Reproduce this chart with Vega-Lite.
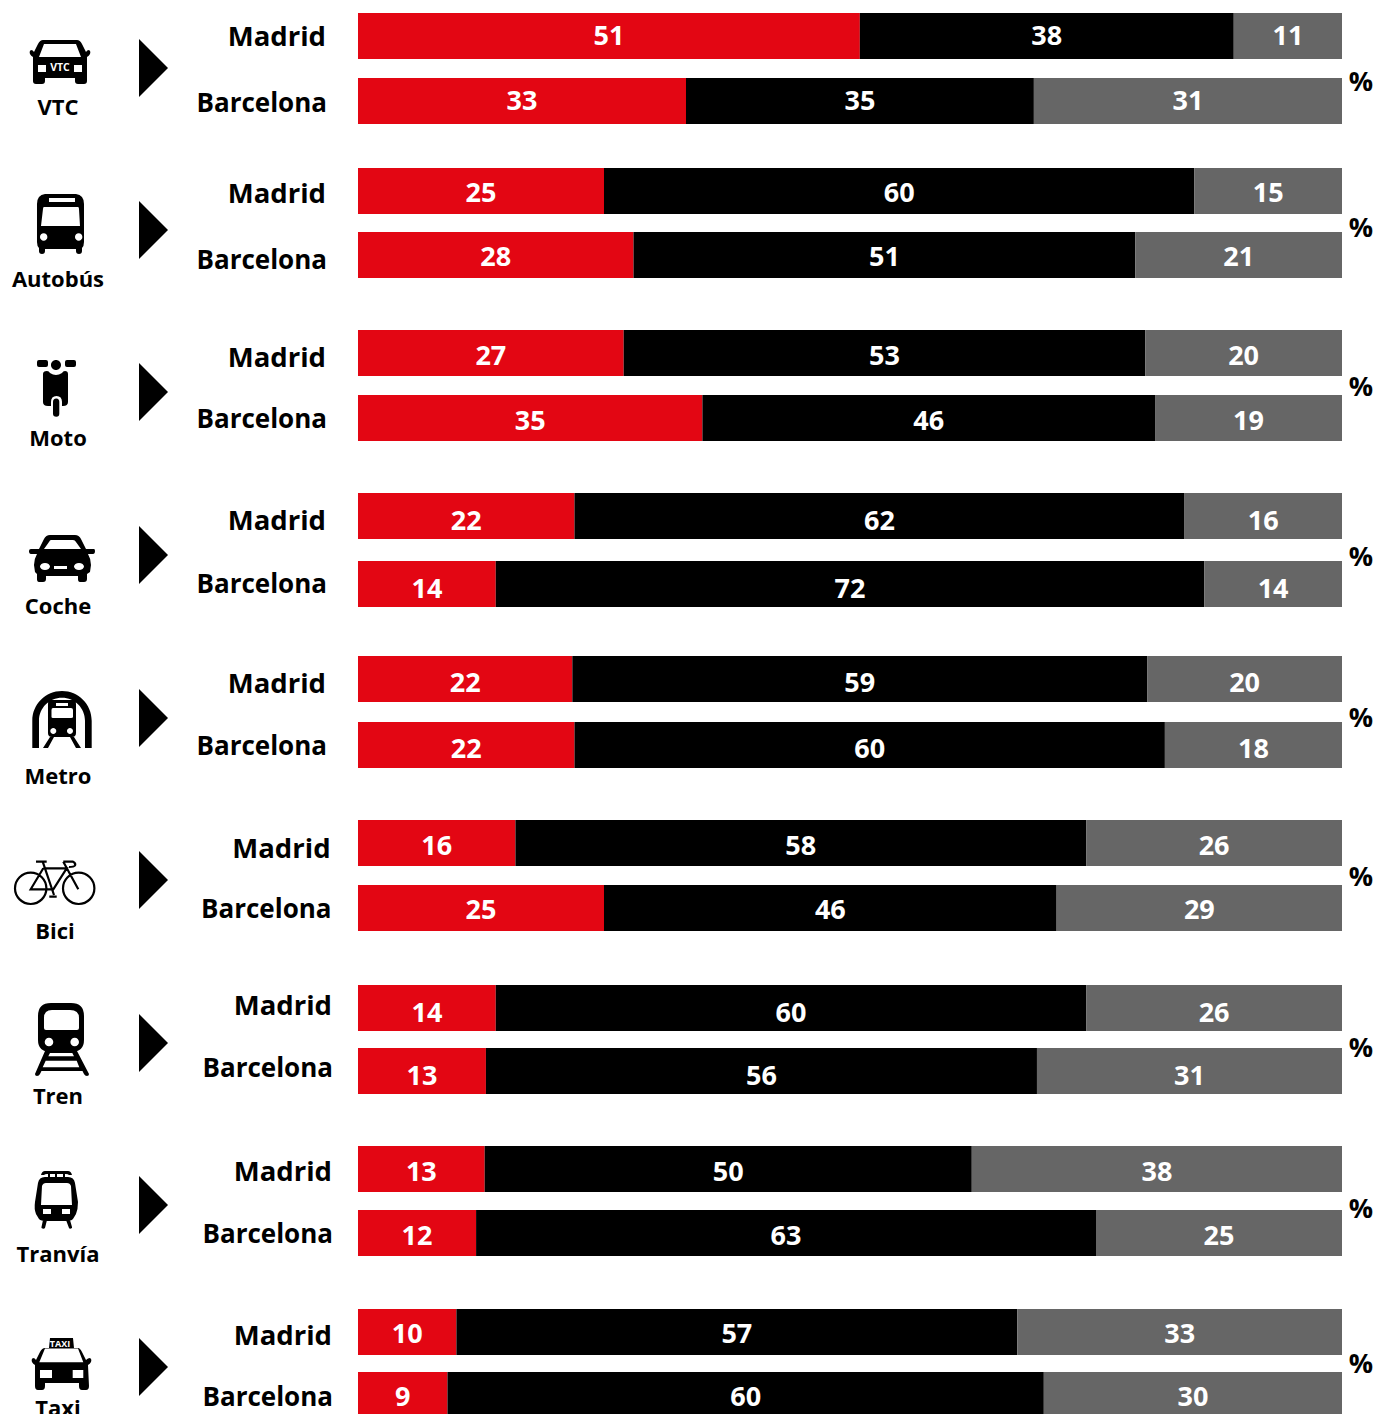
{"$schema":"https://vega.github.io/schema/vega-lite/v6.json","padding":0,"background":"white","spacing":0,"bounds":"flush","config":{"view":{"stroke":null},"text":{"font":"Open Sans","fontWeight":700},"point":{"opacity":1,"filled":true,"strokeWidth":0}},
"datasets":{"rows":[
{"modo":"VTC","ciudad":"Madrid","nivel":1,"pct":51},{"modo":"VTC","ciudad":"Madrid","nivel":2,"pct":38},{"modo":"VTC","ciudad":"Madrid","nivel":3,"pct":11},
{"modo":"VTC","ciudad":"Barcelona","nivel":1,"pct":33},{"modo":"VTC","ciudad":"Barcelona","nivel":2,"pct":35},{"modo":"VTC","ciudad":"Barcelona","nivel":3,"pct":31},
{"modo":"Autobús","ciudad":"Madrid","nivel":1,"pct":25},{"modo":"Autobús","ciudad":"Madrid","nivel":2,"pct":60},{"modo":"Autobús","ciudad":"Madrid","nivel":3,"pct":15},
{"modo":"Autobús","ciudad":"Barcelona","nivel":1,"pct":28},{"modo":"Autobús","ciudad":"Barcelona","nivel":2,"pct":51},{"modo":"Autobús","ciudad":"Barcelona","nivel":3,"pct":21},
{"modo":"Moto","ciudad":"Madrid","nivel":1,"pct":27},{"modo":"Moto","ciudad":"Madrid","nivel":2,"pct":53},{"modo":"Moto","ciudad":"Madrid","nivel":3,"pct":20},
{"modo":"Moto","ciudad":"Barcelona","nivel":1,"pct":35},{"modo":"Moto","ciudad":"Barcelona","nivel":2,"pct":46},{"modo":"Moto","ciudad":"Barcelona","nivel":3,"pct":19},
{"modo":"Coche","ciudad":"Madrid","nivel":1,"pct":22},{"modo":"Coche","ciudad":"Madrid","nivel":2,"pct":62},{"modo":"Coche","ciudad":"Madrid","nivel":3,"pct":16},
{"modo":"Coche","ciudad":"Barcelona","nivel":1,"pct":14},{"modo":"Coche","ciudad":"Barcelona","nivel":2,"pct":72},{"modo":"Coche","ciudad":"Barcelona","nivel":3,"pct":14},
{"modo":"Metro","ciudad":"Madrid","nivel":1,"pct":22},{"modo":"Metro","ciudad":"Madrid","nivel":2,"pct":59},{"modo":"Metro","ciudad":"Madrid","nivel":3,"pct":20},
{"modo":"Metro","ciudad":"Barcelona","nivel":1,"pct":22},{"modo":"Metro","ciudad":"Barcelona","nivel":2,"pct":60},{"modo":"Metro","ciudad":"Barcelona","nivel":3,"pct":18},
{"modo":"Bici","ciudad":"Madrid","nivel":1,"pct":16},{"modo":"Bici","ciudad":"Madrid","nivel":2,"pct":58},{"modo":"Bici","ciudad":"Madrid","nivel":3,"pct":26},
{"modo":"Bici","ciudad":"Barcelona","nivel":1,"pct":25},{"modo":"Bici","ciudad":"Barcelona","nivel":2,"pct":46},{"modo":"Bici","ciudad":"Barcelona","nivel":3,"pct":29},
{"modo":"Tren","ciudad":"Madrid","nivel":1,"pct":14},{"modo":"Tren","ciudad":"Madrid","nivel":2,"pct":60},{"modo":"Tren","ciudad":"Madrid","nivel":3,"pct":26},
{"modo":"Tren","ciudad":"Barcelona","nivel":1,"pct":13},{"modo":"Tren","ciudad":"Barcelona","nivel":2,"pct":56},{"modo":"Tren","ciudad":"Barcelona","nivel":3,"pct":31},
{"modo":"Tranvía","ciudad":"Madrid","nivel":1,"pct":13},{"modo":"Tranvía","ciudad":"Madrid","nivel":2,"pct":50},{"modo":"Tranvía","ciudad":"Madrid","nivel":3,"pct":38},
{"modo":"Tranvía","ciudad":"Barcelona","nivel":1,"pct":12},{"modo":"Tranvía","ciudad":"Barcelona","nivel":2,"pct":63},{"modo":"Tranvía","ciudad":"Barcelona","nivel":3,"pct":25},
{"modo":"Taxi","ciudad":"Madrid","nivel":1,"pct":10},{"modo":"Taxi","ciudad":"Madrid","nivel":2,"pct":57},{"modo":"Taxi","ciudad":"Madrid","nivel":3,"pct":33},
{"modo":"Taxi","ciudad":"Barcelona","nivel":1,"pct":9},{"modo":"Taxi","ciudad":"Barcelona","nivel":2,"pct":60},{"modo":"Taxi","ciudad":"Barcelona","nivel":3,"pct":30}
]},
"vconcat":[
{"width":1377,"height":155,"data":{"name":"rows"},"transform":[{"filter":"datum.modo=='VTC'"}],
"encoding":{"y":{"field":"ciudad","type":"nominal","axis":null,"title":null,"scale":{"domain":["Madrid","Barcelona"],"range":[13,124],"paddingInner":0.2923,"paddingOuter":0}}},
"layer":[
{"mark":"bar","encoding":{"x":{"field":"pct","type":"quantitative","stack":"normalize","axis":null,"title":null,"scale":{"domain":[-0.36382,1.03557],"nice":false,"zero":false}},"color":{"field":"nivel","type":"nominal","legend":null,"scale":{"domain":[1,2,3],"range":["#E30613","#000000","#666666"]}},"order":{"field":"nivel"}}},
{"mark":{"type":"text","color":"white","fontSize":27,"dy":1},"encoding":{"x":{"field":"pct","type":"quantitative","stack":"normalize","bandPosition":0.5,"axis":null,"scale":{"domain":[-0.36382,1.03557],"nice":false,"zero":false}},"detail":{"field":"nivel"},"order":{"field":"nivel"},"text":{"field":"pct"}}},
{"transform":[{"filter":"datum.nivel==1 && datum.ciudad=='Madrid'"}],"mark":{"type":"text","fontSize":27.5,"align":"right","color":"black","dy":2},"encoding":{"x":{"datum":-0.0325,"type":"quantitative","scale":{"domain":[-0.36382,1.03557],"nice":false,"zero":false}},"text":{"field":"ciudad"}}},
{"transform":[{"filter":"datum.nivel==1 && datum.ciudad=='Barcelona'"}],"mark":{"type":"text","fontSize":26,"align":"right","color":"black","dy":3},"encoding":{"x":{"datum":-0.0315,"type":"quantitative","scale":{"domain":[-0.36382,1.03557],"nice":false,"zero":false}},"text":{"field":"ciudad"}}},
{"transform":[{"filter":"datum.nivel==1 && datum.ciudad=='Madrid'"}],"encoding":{"x":{"datum":-0.30285,"type":"quantitative","scale":{"domain":[-0.36382,1.03557],"nice":false,"zero":false}}},"layer":[
{"mark":{"type":"point","size":4,"color":"black","yOffset":27,"shape":"M-17,-23L17,-23Q20,-23 22,-19L26,-11Q27,-13 29,-13Q31,-12 30,-9Q29,-7 27,-6L27,18Q27,21 24,21L18,21Q15,21 15,18L15,15L-15,15L-15,18Q-15,21 -18,21L-24,21Q-27,21 -27,18L-27,-6Q-29,-7 -30,-9Q-31,-12 -29,-13Q-27,-13 -26,-11L-22,-19Q-20,-23 -17,-23Z"}},
{"mark":{"type":"point","size":4,"color":"white","yOffset":27,"shape":"M-16,-19L16,-19L21,-6L-21,-6ZM-22,2L-14,2L-14,9L-22,9ZM14,2L22,2L22,9L14,9Z"}},
{"mark":{"type":"text","text":"VTC","color":"white","fontSize":10.5,"dy":32}}
]},
{"transform":[{"filter":"datum.nivel==1 && datum.ciudad=='Madrid'"}],"mark":{"type":"text","fontSize":22,"color":"black","dy":72},"encoding":{"x":{"datum":-0.3049,"type":"quantitative","scale":{"domain":[-0.36382,1.03557],"nice":false,"zero":false}},"text":{"field":"modo"}}},
{"transform":[{"filter":"datum.nivel==1 && datum.ciudad=='Madrid'"}],"mark":{"type":"point","size":3364,"color":"black","yOffset":32,"shape":"M-0.5,-1L0.5,0L-0.5,1Z"},"encoding":{"x":{"datum":-0.2078,"type":"quantitative","scale":{"domain":[-0.36382,1.03557],"nice":false,"zero":false}}}},
{"transform":[{"filter":"datum.nivel==1 && datum.ciudad=='Madrid'"}],"mark":{"type":"text","text":"%","fontSize":27,"color":"black","dy":47},"encoding":{"x":{"datum":1.0192,"type":"quantitative","scale":{"domain":[-0.36382,1.03557],"nice":false,"zero":false}}}}
]},
{"width":1377,"height":162,"data":{"name":"rows"},"transform":[{"filter":"datum.modo=='Autobús'"}],
"encoding":{"y":{"field":"ciudad","type":"nominal","axis":null,"title":null,"scale":{"domain":["Madrid","Barcelona"],"range":[13,123],"paddingInner":0.28125,"paddingOuter":0}}},
"layer":[
{"mark":"bar","encoding":{"x":{"field":"pct","type":"quantitative","stack":"normalize","axis":null,"title":null,"scale":{"domain":[-0.36382,1.03557],"nice":false,"zero":false}},"color":{"field":"nivel","type":"nominal","legend":null,"scale":{"domain":[1,2,3],"range":["#E30613","#000000","#666666"]}},"order":{"field":"nivel"}}},
{"mark":{"type":"text","color":"white","fontSize":27,"dy":3},"encoding":{"x":{"field":"pct","type":"quantitative","stack":"normalize","bandPosition":0.5,"axis":null,"scale":{"domain":[-0.36382,1.03557],"nice":false,"zero":false}},"detail":{"field":"nivel"},"order":{"field":"nivel"},"text":{"field":"pct"}}},
{"transform":[{"filter":"datum.nivel==1 && datum.ciudad=='Madrid'"}],"mark":{"type":"text","fontSize":27.5,"align":"right","color":"black","dy":4},"encoding":{"x":{"datum":-0.0325,"type":"quantitative","scale":{"domain":[-0.36382,1.03557],"nice":false,"zero":false}},"text":{"field":"ciudad"}}},
{"transform":[{"filter":"datum.nivel==1 && datum.ciudad=='Barcelona'"}],"mark":{"type":"text","fontSize":26,"align":"right","color":"black","dy":6},"encoding":{"x":{"datum":-0.0315,"type":"quantitative","scale":{"domain":[-0.36382,1.03557],"nice":false,"zero":false}},"text":{"field":"ciudad"}}},
{"transform":[{"filter":"datum.nivel==1 && datum.ciudad=='Madrid'"}],"encoding":{"x":{"datum":-0.30285,"type":"quantitative","scale":{"domain":[-0.36382,1.03557],"nice":false,"zero":false}}},"layer":[
{"mark":{"type":"point","size":4,"color":"black","yOffset":33,"shape":"M-15,-30L16,-30Q24,-29 24,-20L24,18Q24,22 22,24L22,27Q22,30 19,30Q16,30 16,27L16,25L-15,25L-15,27Q-15,30 -18,30Q-21,30 -21,27L-21,24Q-23,22 -23,18L-23,-20Q-23,-29 -15,-30Z"}},
{"mark":{"type":"point","size":4,"color":"white","yOffset":33,"shape":"M-16,-17L18,-17Q19,-17 19,-15L20,2L-19,2L-17,-15Q-17,-17 -16,-17ZM-11,-26L15,-26L15,-22L-11,-22ZM-20,13a3.7,3.7 0 1 0 7.4,0a3.7,3.7 0 1 0 -7.4,0ZM15,13a3.7,3.7 0 1 0 7.4,0a3.7,3.7 0 1 0 -7.4,0Z"}}
]},
{"transform":[{"filter":"datum.nivel==1 && datum.ciudad=='Madrid'"}],"mark":{"type":"text","fontSize":22,"color":"black","dy":89},"encoding":{"x":{"datum":-0.3049,"type":"quantitative","scale":{"domain":[-0.36382,1.03557],"nice":false,"zero":false}},"text":{"field":"modo"}}},
{"transform":[{"filter":"datum.nivel==1 && datum.ciudad=='Madrid'"}],"mark":{"type":"point","size":3364,"color":"black","yOffset":39,"shape":"M-0.5,-1L0.5,0L-0.5,1Z"},"encoding":{"x":{"datum":-0.2078,"type":"quantitative","scale":{"domain":[-0.36382,1.03557],"nice":false,"zero":false}}}},
{"transform":[{"filter":"datum.nivel==1 && datum.ciudad=='Madrid'"}],"mark":{"type":"text","text":"%","fontSize":27,"color":"black","dy":38},"encoding":{"x":{"datum":1.0192,"type":"quantitative","scale":{"domain":[-0.36382,1.03557],"nice":false,"zero":false}}}}
]},
{"width":1377,"height":163,"data":{"name":"rows"},"transform":[{"filter":"datum.modo=='Moto'"}],
"encoding":{"y":{"field":"ciudad","type":"nominal","axis":null,"title":null,"scale":{"domain":["Madrid","Barcelona"],"range":[13,124],"paddingInner":0.2923,"paddingOuter":0}}},
"layer":[
{"mark":"bar","encoding":{"x":{"field":"pct","type":"quantitative","stack":"normalize","axis":null,"title":null,"scale":{"domain":[-0.36382,1.03557],"nice":false,"zero":false}},"color":{"field":"nivel","type":"nominal","legend":null,"scale":{"domain":[1,2,3],"range":["#E30613","#000000","#666666"]}},"order":{"field":"nivel"}}},
{"mark":{"type":"text","color":"white","fontSize":27,"dy":4},"encoding":{"x":{"field":"pct","type":"quantitative","stack":"normalize","bandPosition":0.5,"axis":null,"scale":{"domain":[-0.36382,1.03557],"nice":false,"zero":false}},"detail":{"field":"nivel"},"order":{"field":"nivel"},"text":{"field":"pct"}}},
{"transform":[{"filter":"datum.nivel==1 && datum.ciudad=='Madrid'"}],"mark":{"type":"text","fontSize":27.5,"align":"right","color":"black","dy":6},"encoding":{"x":{"datum":-0.0325,"type":"quantitative","scale":{"domain":[-0.36382,1.03557],"nice":false,"zero":false}},"text":{"field":"ciudad"}}},
{"transform":[{"filter":"datum.nivel==1 && datum.ciudad=='Barcelona'"}],"mark":{"type":"text","fontSize":26,"align":"right","color":"black","dy":2},"encoding":{"x":{"datum":-0.0315,"type":"quantitative","scale":{"domain":[-0.36382,1.03557],"nice":false,"zero":false}},"text":{"field":"ciudad"}}},
{"transform":[{"filter":"datum.nivel==1 && datum.ciudad=='Madrid'"}],"encoding":{"x":{"datum":-0.30285,"type":"quantitative","scale":{"domain":[-0.36382,1.03557],"nice":false,"zero":false}}},"layer":[
{"mark":{"type":"point","size":4,"color":"black","yOffset":35,"shape":"M-21,-28L-14,-28Q-12,-28 -12,-26L-12,-23Q-12,-21 -14,-21L-21,-21Q-23,-21 -23,-23L-23,-26Q-23,-28 -21,-28ZM7,-28L14,-28Q16,-28 16,-26L16,-23Q16,-21 14,-21L7,-21Q5,-21 5,-23L5,-26Q5,-28 7,-28ZM-9,-23a5,5 0 1 0 10,0a5,5 0 1 0 -10,0ZM-17,-14Q-17,-17 -13,-17Q-11,-17 -10,-15Q-4,-11 2,-15Q3,-17 5,-17Q8,-17 8,-14L8,14Q8,18 3,18L-12,18Q-17,18 -17,14Z"}},
{"mark":{"type":"point","size":4,"color":"white","yOffset":35,"shape":"M-9,14Q-9,8 -3.5,8Q2,8 2,14L2,32L-9,32Z"}},
{"mark":{"type":"point","size":4,"color":"black","yOffset":35,"shape":"M-7,14Q-7,10.5 -3.7,10.5Q-0.7,10.5 -0.7,14L-0.7,25.5Q-0.7,28.7 -3.7,28.7Q-7,28.7 -7,25.5Z"}}
]},
{"transform":[{"filter":"datum.nivel==1 && datum.ciudad=='Madrid'"}],"mark":{"type":"text","fontSize":22,"color":"black","dy":86},"encoding":{"x":{"datum":-0.3049,"type":"quantitative","scale":{"domain":[-0.36382,1.03557],"nice":false,"zero":false}},"text":{"field":"modo"}}},
{"transform":[{"filter":"datum.nivel==1 && datum.ciudad=='Madrid'"}],"mark":{"type":"point","size":3364,"color":"black","yOffset":39,"shape":"M-0.5,-1L0.5,0L-0.5,1Z"},"encoding":{"x":{"datum":-0.2078,"type":"quantitative","scale":{"domain":[-0.36382,1.03557],"nice":false,"zero":false}}}},
{"transform":[{"filter":"datum.nivel==1 && datum.ciudad=='Madrid'"}],"mark":{"type":"text","text":"%","fontSize":27,"color":"black","dy":35},"encoding":{"x":{"datum":1.0192,"type":"quantitative","scale":{"domain":[-0.36382,1.03557],"nice":false,"zero":false}}}}
]},
{"width":1377,"height":163,"data":{"name":"rows"},"transform":[{"filter":"datum.modo=='Coche'"}],
"encoding":{"y":{"field":"ciudad","type":"nominal","axis":null,"title":null,"scale":{"domain":["Madrid","Barcelona"],"range":[13,127],"paddingInner":0.3235,"paddingOuter":0}}},
"layer":[
{"mark":"bar","encoding":{"x":{"field":"pct","type":"quantitative","stack":"normalize","axis":null,"title":null,"scale":{"domain":[-0.36382,1.03557],"nice":false,"zero":false}},"color":{"field":"nivel","type":"nominal","legend":null,"scale":{"domain":[1,2,3],"range":["#E30613","#000000","#666666"]}},"order":{"field":"nivel"}}},
{"mark":{"type":"text","color":"white","fontSize":27,"dy":6},"encoding":{"x":{"field":"pct","type":"quantitative","stack":"normalize","bandPosition":0.5,"axis":null,"scale":{"domain":[-0.36382,1.03557],"nice":false,"zero":false}},"detail":{"field":"nivel"},"order":{"field":"nivel"},"text":{"field":"pct"}}},
{"transform":[{"filter":"datum.nivel==1 && datum.ciudad=='Madrid'"}],"mark":{"type":"text","fontSize":27.5,"align":"right","color":"black","dy":6},"encoding":{"x":{"datum":-0.0325,"type":"quantitative","scale":{"domain":[-0.36382,1.03557],"nice":false,"zero":false}},"text":{"field":"ciudad"}}},
{"transform":[{"filter":"datum.nivel==1 && datum.ciudad=='Barcelona'"}],"mark":{"type":"text","fontSize":26,"align":"right","color":"black","dy":1},"encoding":{"x":{"datum":-0.0315,"type":"quantitative","scale":{"domain":[-0.36382,1.03557],"nice":false,"zero":false}},"text":{"field":"ciudad"}}},
{"transform":[{"filter":"datum.nivel==1 && datum.ciudad=='Madrid'"}],"encoding":{"x":{"datum":-0.30285,"type":"quantitative","scale":{"domain":[-0.36382,1.03557],"nice":false,"zero":false}}},"layer":[
{"mark":{"type":"point","size":4,"color":"black","yOffset":41,"shape":"M-10,-22L15,-22Q19,-22 21,-18L26,-8L34,-8Q35,-8 35,-6Q35,-3 33,-3L28,-3Q31,2 31,8L30,15L27,17L27,22Q27,25 24,25L20,25Q18,25 18,22L18,19L-14,19L-14,22Q-14,25 -17,25L-21,25Q-23,25 -23,22L-23,17L-25,15L-26,8Q-26,2 -23,-3L-29,-3Q-31,-3 -31,-6Q-31,-8 -29,-8L-21,-8L-16,-18Q-14,-22 -10,-22Z"}},
{"mark":{"type":"point","size":4,"color":"white","yOffset":41,"shape":"M-9,-17L13,-17Q15,-17 16,-15L21,-8L-16,-8L-11,-15Q-10,-17 -9,-17ZM-20,9.5a5,3.5 0 1 0 10,0a5,3.5 0 1 0 -10,0ZM14,9.5a5,3.5 0 1 0 10,0a5,3.5 0 1 0 -10,0ZM-6,9L7,9L7,12L-6,12Z"}}
]},
{"transform":[{"filter":"datum.nivel==1 && datum.ciudad=='Madrid'"}],"mark":{"type":"text","fontSize":22,"color":"black","dy":91},"encoding":{"x":{"datum":-0.3049,"type":"quantitative","scale":{"domain":[-0.36382,1.03557],"nice":false,"zero":false}},"text":{"field":"modo"}}},
{"transform":[{"filter":"datum.nivel==1 && datum.ciudad=='Madrid'"}],"mark":{"type":"point","size":3364,"color":"black","yOffset":39,"shape":"M-0.5,-1L0.5,0L-0.5,1Z"},"encoding":{"x":{"datum":-0.2078,"type":"quantitative","scale":{"domain":[-0.36382,1.03557],"nice":false,"zero":false}}}},
{"transform":[{"filter":"datum.nivel==1 && datum.ciudad=='Madrid'"}],"mark":{"type":"text","text":"%","fontSize":27,"color":"black","dy":42},"encoding":{"x":{"datum":1.0192,"type":"quantitative","scale":{"domain":[-0.36382,1.03557],"nice":false,"zero":false}}}}
]},
{"width":1377,"height":164,"data":{"name":"rows"},"transform":[{"filter":"datum.modo=='Metro'"}],
"encoding":{"y":{"field":"ciudad","type":"nominal","axis":null,"title":null,"scale":{"domain":["Madrid","Barcelona"],"range":[13,125],"paddingInner":0.303,"paddingOuter":0}}},
"layer":[
{"mark":"bar","encoding":{"x":{"field":"pct","type":"quantitative","stack":"normalize","axis":null,"title":null,"scale":{"domain":[-0.36382,1.03557],"nice":false,"zero":false}},"color":{"field":"nivel","type":"nominal","legend":null,"scale":{"domain":[1,2,3],"range":["#E30613","#000000","#666666"]}},"order":{"field":"nivel"}}},
{"mark":{"type":"text","color":"white","fontSize":27,"dy":5},"encoding":{"x":{"field":"pct","type":"quantitative","stack":"normalize","bandPosition":0.5,"axis":null,"scale":{"domain":[-0.36382,1.03557],"nice":false,"zero":false}},"detail":{"field":"nivel"},"order":{"field":"nivel"},"text":{"field":"pct"}}},
{"transform":[{"filter":"datum.nivel==1 && datum.ciudad=='Madrid'"}],"mark":{"type":"text","fontSize":27.5,"align":"right","color":"black","dy":6},"encoding":{"x":{"datum":-0.0325,"type":"quantitative","scale":{"domain":[-0.36382,1.03557],"nice":false,"zero":false}},"text":{"field":"ciudad"}}},
{"transform":[{"filter":"datum.nivel==1 && datum.ciudad=='Barcelona'"}],"mark":{"type":"text","fontSize":26,"align":"right","color":"black","dy":2},"encoding":{"x":{"datum":-0.0315,"type":"quantitative","scale":{"domain":[-0.36382,1.03557],"nice":false,"zero":false}},"text":{"field":"ciudad"}}},
{"transform":[{"filter":"datum.nivel==1 && datum.ciudad=='Madrid'"}],"encoding":{"x":{"datum":-0.30285,"type":"quantitative","scale":{"domain":[-0.36382,1.03557],"nice":false,"zero":false}}},"layer":[
{"mark":{"type":"point","size":4,"color":"black","yOffset":43,"shape":"M-27.7,26L-27.7,-1.3A29.7,29.7 0 0 1 31.7,-1.3L31.7,26L25,26L25,-1.3A23,23 0 0 0 -21,-1.3L-21,26ZM-8,-22L12,-22Q16,-22 16,-18L16,11Q16,15 12,15L-8,15Q-12,15 -12,11L-12,-18Q-12,-22 -8,-22ZM-10,15L-6,15L-12,26L-17,26ZM14,15L10,15L16,26L21,26Z"}},
{"mark":{"type":"point","size":4,"color":"white","yOffset":43,"shape":"M-7,-14L11,-14Q13,-14 13,-12L13,-5Q13,-4 11,-4L-7,-4Q-8.5,-4 -8.5,-5L-8.5,-12Q-8.5,-14 -7,-14ZM-4,-19L8,-19L8,-16L-4,-16ZM-9.7,9a3,3 0 1 0 6,0a3,3 0 1 0 -6,0ZM7,9a3,3 0 1 0 6,0a3,3 0 1 0 -6,0Z"}}
]},
{"transform":[{"filter":"datum.nivel==1 && datum.ciudad=='Madrid'"}],"mark":{"type":"text","fontSize":22,"color":"black","dy":98},"encoding":{"x":{"datum":-0.3049,"type":"quantitative","scale":{"domain":[-0.36382,1.03557],"nice":false,"zero":false}},"text":{"field":"modo"}}},
{"transform":[{"filter":"datum.nivel==1 && datum.ciudad=='Madrid'"}],"mark":{"type":"point","size":3364,"color":"black","yOffset":39,"shape":"M-0.5,-1L0.5,0L-0.5,1Z"},"encoding":{"x":{"datum":-0.2078,"type":"quantitative","scale":{"domain":[-0.36382,1.03557],"nice":false,"zero":false}}}},
{"transform":[{"filter":"datum.nivel==1 && datum.ciudad=='Madrid'"}],"mark":{"type":"text","text":"%","fontSize":27,"color":"black","dy":40},"encoding":{"x":{"datum":1.0192,"type":"quantitative","scale":{"domain":[-0.36382,1.03557],"nice":false,"zero":false}}}}
]},
{"width":1377,"height":165,"data":{"name":"rows"},"transform":[{"filter":"datum.modo=='Bici'"}],
"encoding":{"y":{"field":"ciudad","type":"nominal","axis":null,"title":null,"scale":{"domain":["Madrid","Barcelona"],"range":[13,124],"paddingInner":0.2923,"paddingOuter":0}}},
"layer":[
{"mark":"bar","encoding":{"x":{"field":"pct","type":"quantitative","stack":"normalize","axis":null,"title":null,"scale":{"domain":[-0.36382,1.03557],"nice":false,"zero":false}},"color":{"field":"nivel","type":"nominal","legend":null,"scale":{"domain":[1,2,3],"range":["#E30613","#000000","#666666"]}},"order":{"field":"nivel"}}},
{"mark":{"type":"text","color":"white","fontSize":27,"dy":3.5},"encoding":{"x":{"field":"pct","type":"quantitative","stack":"normalize","bandPosition":0.5,"axis":null,"scale":{"domain":[-0.36382,1.03557],"nice":false,"zero":false}},"detail":{"field":"nivel"},"order":{"field":"nivel"},"text":{"field":"pct"}}},
{"transform":[{"filter":"datum.nivel==1 && datum.ciudad=='Madrid'"}],"mark":{"type":"text","fontSize":27.5,"align":"right","color":"black","dy":7},"encoding":{"x":{"datum":-0.0279,"type":"quantitative","scale":{"domain":[-0.36382,1.03557],"nice":false,"zero":false}},"text":{"field":"ciudad"}}},
{"transform":[{"filter":"datum.nivel==1 && datum.ciudad=='Barcelona'"}],"mark":{"type":"text","fontSize":26,"align":"right","color":"black","dy":2},"encoding":{"x":{"datum":-0.0269,"type":"quantitative","scale":{"domain":[-0.36382,1.03557],"nice":false,"zero":false}},"text":{"field":"ciudad"}}},
{"transform":[{"filter":"datum.nivel==1 && datum.ciudad=='Madrid'"}],"encoding":{"x":{"datum":-0.30285,"type":"quantitative","scale":{"domain":[-0.36382,1.03557],"nice":false,"zero":false}}},"layer":[
{"mark":{"type":"point","size":4,"filled":false,"fill":null,"stroke":"black","strokeWidth":2.2,"yOffset":37,"shape":"M-45,8.3a15.7,15.7 0 1 0 31.4,0a15.7,15.7 0 1 0 -31.4,0ZM3,8.3a15.7,15.7 0 1 0 31.4,0a15.7,15.7 0 1 0 -31.4,0ZM-24,-18.3L-13.3,-18.3M-17.3,-18.3L-6,15M-16.7,-11.7L6.7,-11.7L-6.7,9.3L-29.3,9.3L-16.7,-11.7M3.3,-18.3L18.3,9.3M3.3,-18.3L13,-18.3Q16,-17 15,-14.5Q14,-13 9,-13M-10.7,16.7L-3.3,16.7"}}
]},
{"transform":[{"filter":"datum.nivel==1 && datum.ciudad=='Madrid'"}],"mark":{"type":"text","fontSize":22,"color":"black","dy":89},"encoding":{"x":{"datum":-0.3079,"type":"quantitative","scale":{"domain":[-0.36382,1.03557],"nice":false,"zero":false}},"text":{"field":"modo"}}},
{"transform":[{"filter":"datum.nivel==1 && datum.ciudad=='Madrid'"}],"mark":{"type":"point","size":3364,"color":"black","yOffset":37,"shape":"M-0.5,-1L0.5,0L-0.5,1Z"},"encoding":{"x":{"datum":-0.2078,"type":"quantitative","scale":{"domain":[-0.36382,1.03557],"nice":false,"zero":false}}}},
{"transform":[{"filter":"datum.nivel==1 && datum.ciudad=='Madrid'"}],"mark":{"type":"text","text":"%","fontSize":27,"color":"black","dy":35},"encoding":{"x":{"datum":1.0192,"type":"quantitative","scale":{"domain":[-0.36382,1.03557],"nice":false,"zero":false}}}}
]},
{"width":1377,"height":161,"data":{"name":"rows"},"transform":[{"filter":"datum.modo=='Tren'"}],
"encoding":{"y":{"field":"ciudad","type":"nominal","axis":null,"title":null,"scale":{"domain":["Madrid","Barcelona"],"range":[13,122],"paddingInner":0.2698,"paddingOuter":0}}},
"layer":[
{"mark":"bar","encoding":{"x":{"field":"pct","type":"quantitative","stack":"normalize","axis":null,"title":null,"scale":{"domain":[-0.36382,1.03557],"nice":false,"zero":false}},"color":{"field":"nivel","type":"nominal","legend":null,"scale":{"domain":[1,2,3],"range":["#E30613","#000000","#666666"]}},"order":{"field":"nivel"}}},
{"mark":{"type":"text","color":"white","fontSize":27,"dy":6},"encoding":{"x":{"field":"pct","type":"quantitative","stack":"normalize","bandPosition":0.5,"axis":null,"scale":{"domain":[-0.36382,1.03557],"nice":false,"zero":false}},"detail":{"field":"nivel"},"order":{"field":"nivel"},"text":{"field":"pct"}}},
{"transform":[{"filter":"datum.nivel==1 && datum.ciudad=='Madrid'"}],"mark":{"type":"text","fontSize":27.5,"align":"right","color":"black","dy":-1},"encoding":{"x":{"datum":-0.0264,"type":"quantitative","scale":{"domain":[-0.36382,1.03557],"nice":false,"zero":false}},"text":{"field":"ciudad"}}},
{"transform":[{"filter":"datum.nivel==1 && datum.ciudad=='Barcelona'"}],"mark":{"type":"text","fontSize":26,"align":"right","color":"black","dy":-2},"encoding":{"x":{"datum":-0.0254,"type":"quantitative","scale":{"domain":[-0.36382,1.03557],"nice":false,"zero":false}},"text":{"field":"ciudad"}}},
{"transform":[{"filter":"datum.nivel==1 && datum.ciudad=='Madrid'"}],"encoding":{"x":{"datum":-0.30285,"type":"quantitative","scale":{"domain":[-0.36382,1.03557],"nice":false,"zero":false}}},"layer":[
{"mark":{"type":"point","size":4,"color":"black","yOffset":30,"shape":"M-9,-35L11,-35Q24,-35 24,-22L24,2Q24,14 11,14L-9,14Q-22,14 -22,2L-22,-22Q-22,-35 -9,-35ZM-15,13L17,13L29,36Q29,38 27,38Q25,38 24,36L22.5,33L-18.5,33L-20,36Q-21,38 -23,38Q-25,38 -25,36Z"}},
{"mark":{"type":"point","size":4,"color":"white","yOffset":30,"shape":"M-8,-28L10,-28Q19,-28 19,-20L19,-10Q19,-8 17,-8L-14,-8Q-16,-8 -16,-10L-16,-20Q-16,-28 -8,-28ZM-15.3,4a4.3,4.3 0 1 0 8.6,0a4.3,4.3 0 1 0 -8.6,0ZM10.4,4a4.3,4.3 0 1 0 8.6,0a4.3,4.3 0 1 0 -8.6,0ZM-10,15L12.3,15L14,18.3L-11.7,18.3ZM-14.3,22.7L16.7,22.7L19.3,29.3L-17.3,29.3Z"}}
]},
{"transform":[{"filter":"datum.nivel==1 && datum.ciudad=='Madrid'"}],"mark":{"type":"text","fontSize":22,"color":"black","dy":89},"encoding":{"x":{"datum":-0.3049,"type":"quantitative","scale":{"domain":[-0.36382,1.03557],"nice":false,"zero":false}},"text":{"field":"modo"}}},
{"transform":[{"filter":"datum.nivel==1 && datum.ciudad=='Madrid'"}],"mark":{"type":"point","size":3364,"color":"black","yOffset":35,"shape":"M-0.5,-1L0.5,0L-0.5,1Z"},"encoding":{"x":{"datum":-0.2078,"type":"quantitative","scale":{"domain":[-0.36382,1.03557],"nice":false,"zero":false}}}},
{"transform":[{"filter":"datum.nivel==1 && datum.ciudad=='Madrid'"}],"mark":{"type":"text","text":"%","fontSize":27,"color":"black","dy":41},"encoding":{"x":{"datum":1.0192,"type":"quantitative","scale":{"domain":[-0.36382,1.03557],"nice":false,"zero":false}}}}
]},
{"width":1377,"height":163,"data":{"name":"rows"},"transform":[{"filter":"datum.modo=='Tranvía'"}],
"encoding":{"y":{"field":"ciudad","type":"nominal","axis":null,"title":null,"scale":{"domain":["Madrid","Barcelona"],"range":[13,123],"paddingInner":0.28125,"paddingOuter":0}}},
"layer":[
{"mark":"bar","encoding":{"x":{"field":"pct","type":"quantitative","stack":"normalize","axis":null,"title":null,"scale":{"domain":[-0.36382,1.03557],"nice":false,"zero":false}},"color":{"field":"nivel","type":"nominal","legend":null,"scale":{"domain":[1,2,3],"range":["#E30613","#000000","#666666"]}},"order":{"field":"nivel"}}},
{"mark":{"type":"text","color":"white","fontSize":27,"dy":3.5},"encoding":{"x":{"field":"pct","type":"quantitative","stack":"normalize","bandPosition":0.5,"axis":null,"scale":{"domain":[-0.36382,1.03557],"nice":false,"zero":false}},"detail":{"field":"nivel"},"order":{"field":"nivel"},"text":{"field":"pct"}}},
{"transform":[{"filter":"datum.nivel==1 && datum.ciudad=='Madrid'"}],"mark":{"type":"text","fontSize":27.5,"align":"right","color":"black","dy":4},"encoding":{"x":{"datum":-0.0264,"type":"quantitative","scale":{"domain":[-0.36382,1.03557],"nice":false,"zero":false}},"text":{"field":"ciudad"}}},
{"transform":[{"filter":"datum.nivel==1 && datum.ciudad=='Barcelona'"}],"mark":{"type":"text","fontSize":26,"align":"right","color":"black","dy":2},"encoding":{"x":{"datum":-0.0254,"type":"quantitative","scale":{"domain":[-0.36382,1.03557],"nice":false,"zero":false}},"text":{"field":"ciudad"}}},
{"transform":[{"filter":"datum.nivel==1 && datum.ciudad=='Madrid'"}],"encoding":{"x":{"datum":-0.30285,"type":"quantitative","scale":{"domain":[-0.36382,1.03557],"nice":false,"zero":false}}},"layer":[
{"mark":{"type":"point","size":4,"color":"black","yOffset":31,"shape":"M-15,-29L8,-29Q11,-29 12,-25L9,-25Q8,-26 6,-26L-13,-26Q-15,-26 -16,-25L-19,-25Q-18,-29 -15,-29ZM-12,-27L-10,-27L-10,-22L-12,-22ZM-5,-27L-3,-27L-3,-22L-5,-22ZM3,-27L5,-27L5,-22L3,-22ZM-15,-23L8,-23Q14,-23 15,-17L18,2Q18,9 16,14L13,19Q11,21 6,21L-14,21Q-19,21 -21,19L-24,14Q-26,9 -25,2L-22,-17Q-21,-23 -15,-23ZM-17,20L-13,20L-15,28Q-16,29 -17.5,28.5Q-19,28 -18.5,27ZM6,20L10,20L12,27Q12.5,28 11,28.5Q9.5,29 9,28Z"}},
{"mark":{"type":"point","size":4,"color":"white","yOffset":31,"shape":"M-14,-17L7,-17Q10,-17 11,-14L12,5L-19,5L-18,-14Q-17,-17 -14,-17ZM-17,9L-9,9L-9,14L-17,14ZM2,9L10,9L10,14L2,14Z"}}
]},
{"transform":[{"filter":"datum.nivel==1 && datum.ciudad=='Madrid'"}],"mark":{"type":"text","fontSize":22,"color":"black","dy":86},"encoding":{"x":{"datum":-0.3049,"type":"quantitative","scale":{"domain":[-0.36382,1.03557],"nice":false,"zero":false}},"text":{"field":"modo"}}},
{"transform":[{"filter":"datum.nivel==1 && datum.ciudad=='Madrid'"}],"mark":{"type":"point","size":3364,"color":"black","yOffset":36,"shape":"M-0.5,-1L0.5,0L-0.5,1Z"},"encoding":{"x":{"datum":-0.2078,"type":"quantitative","scale":{"domain":[-0.36382,1.03557],"nice":false,"zero":false}}}},
{"transform":[{"filter":"datum.nivel==1 && datum.ciudad=='Madrid'"}],"mark":{"type":"text","text":"%","fontSize":27,"color":"black","dy":41},"encoding":{"x":{"datum":1.0192,"type":"quantitative","scale":{"domain":[-0.36382,1.03557],"nice":false,"zero":false}}}}
]},
{"width":1377,"height":118,"data":{"name":"rows"},"transform":[{"filter":"datum.modo=='Taxi'"}],
"encoding":{"y":{"field":"ciudad","type":"nominal","axis":null,"title":null,"scale":{"domain":["Madrid","Barcelona"],"range":[13,122],"paddingInner":0.2698,"paddingOuter":0}}},
"layer":[
{"mark":{"type":"bar","clip":true},"encoding":{"x":{"field":"pct","type":"quantitative","stack":"normalize","axis":null,"title":null,"scale":{"domain":[-0.36382,1.03557],"nice":false,"zero":false}},"color":{"field":"nivel","type":"nominal","legend":null,"scale":{"domain":[1,2,3],"range":["#E30613","#000000","#666666"]}},"order":{"field":"nivel"}}},
{"mark":{"type":"text","color":"white","fontSize":27,"dy":3,"clip":true},"encoding":{"x":{"field":"pct","type":"quantitative","stack":"normalize","bandPosition":0.5,"axis":null,"scale":{"domain":[-0.36382,1.03557],"nice":false,"zero":false}},"detail":{"field":"nivel"},"order":{"field":"nivel"},"text":{"field":"pct"}}},
{"transform":[{"filter":"datum.nivel==1 && datum.ciudad=='Madrid'"}],"mark":{"type":"text","fontSize":27.5,"align":"right","color":"black","dy":5},"encoding":{"x":{"datum":-0.0264,"type":"quantitative","scale":{"domain":[-0.36382,1.03557],"nice":false,"zero":false}},"text":{"field":"ciudad"}}},
{"transform":[{"filter":"datum.nivel==1 && datum.ciudad=='Barcelona'"}],"mark":{"type":"text","fontSize":26,"align":"right","color":"black","dy":3,"clip":true},"encoding":{"x":{"datum":-0.0254,"type":"quantitative","scale":{"domain":[-0.36382,1.03557],"nice":false,"zero":false}},"text":{"field":"ciudad"}}},
{"transform":[{"filter":"datum.nivel==1 && datum.ciudad=='Madrid'"}],"encoding":{"x":{"datum":-0.30285,"type":"quantitative","scale":{"domain":[-0.36382,1.03557],"nice":false,"zero":false}}},"layer":[
{"mark":{"type":"point","size":4,"color":"black","yOffset":31,"shape":"M-10,-25L13,-25L14,-15L18,-15Q20,-15 22,-11L26,-3Q28,-5 30,-5Q32,-4 31,-1Q30,1 28,2L29,23Q29,27 26,27L22,27Q19,27 19,23L19,20L-15,20L-15,23Q-15,27 -18,27L-22,27Q-25,27 -25,23L-25,2Q-27,1 -28,-1Q-29,-4 -27,-5Q-25,-5 -24,-3L-20,-11Q-18,-15 -15,-15L-11,-15Z"}},
{"mark":{"type":"point","size":4,"color":"white","yOffset":31,"shape":"M-15,-14.5L18,-14.5L23.3,-0.7L-20.7,-0.7ZM-20,7L-8,7L-8,15L-20,15ZM12.7,7L23.3,7L23.3,15L12.7,15Z"}},
{"mark":{"type":"text","text":"TAXI","color":"white","fontSize":9,"dy":11.5}}
]},
{"transform":[{"filter":"datum.nivel==1 && datum.ciudad=='Madrid'"}],"mark":{"type":"text","fontSize":22,"color":"black","dy":77,"clip":true},"encoding":{"x":{"datum":-0.3049,"type":"quantitative","scale":{"domain":[-0.36382,1.03557],"nice":false,"zero":false}},"text":{"field":"modo"}}},
{"transform":[{"filter":"datum.nivel==1 && datum.ciudad=='Madrid'"}],"mark":{"type":"point","size":3364,"color":"black","yOffset":35,"shape":"M-0.5,-1L0.5,0L-0.5,1Z"},"encoding":{"x":{"datum":-0.2078,"type":"quantitative","scale":{"domain":[-0.36382,1.03557],"nice":false,"zero":false}}}},
{"transform":[{"filter":"datum.nivel==1 && datum.ciudad=='Madrid'"}],"mark":{"type":"text","text":"%","fontSize":27,"color":"black","dy":33},"encoding":{"x":{"datum":1.0192,"type":"quantitative","scale":{"domain":[-0.36382,1.03557],"nice":false,"zero":false}}}}
]}
]}
